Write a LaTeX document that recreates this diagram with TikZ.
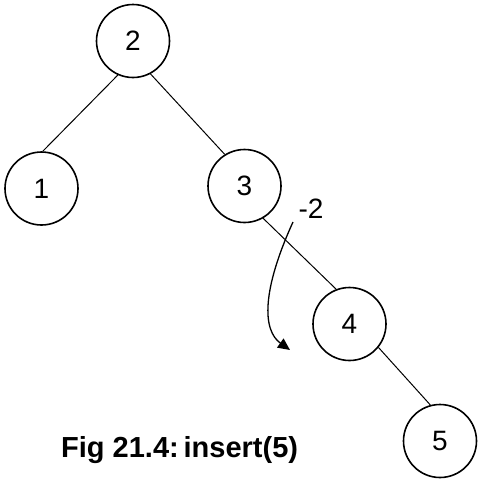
\documentclass[tikz,border=0pt]{standalone}
\usepackage{fontspec}
\setmainfont{Liberation Sans}
\usetikzlibrary{arrows.meta}
\begin{document}
\begin{tikzpicture}[x=1pt,y=-1pt,
  tnode/.style={circle,draw,line width=1.6pt,minimum size=73pt,inner sep=0pt,font=\fontsize{28}{28}\selectfont},
  tedge/.style={line width=1pt}]
\useasboundingbox (0,0) rectangle (480,480);
\node[tnode] (n2) at (133,41) {2};
\node[tnode] (n1) at (41.5,188.5) {1};
\node[tnode] (n3) at (244.5,186) {3};
\node[tnode] (n4) at (349.5,324) {4};
\node[tnode] (n5) at (440,441) {5};
\draw[tedge] (n2.246) -- (n1.88);
\draw[tedge] (n2.298) -- (n3.122);
\draw[tedge] (n3.300) -- (n4.111);
\draw[tedge] (n4.321) -- (n5.105);
\node[font=\fontsize{28}{28}\selectfont] (lab) at (311,209) {-2};
\coordinate (a0) at (293,222);
\coordinate (a1) at (290,350);
\draw[line width=1.3pt,-{Triangle[length=12pt,width=11pt]}] (a0) .. controls (262,290) and (262,330) .. (a1);
\node[font=\bfseries\fontsize{29}{29}\selectfont,anchor=base west,inner sep=0pt] (cap) at (61,457) {Fig 21.4:\,insert(5)};
\end{tikzpicture}
\end{document}
